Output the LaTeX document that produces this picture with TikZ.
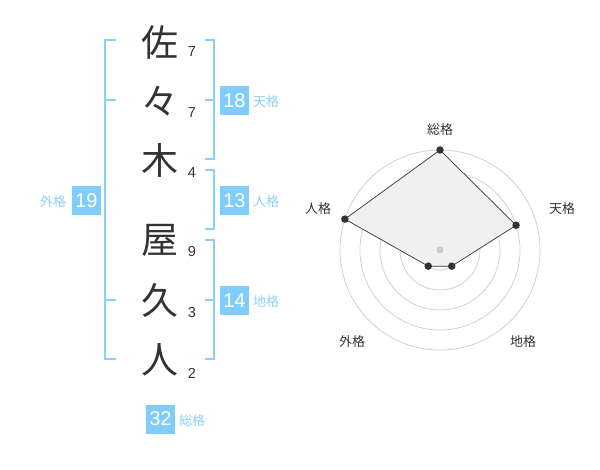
\documentclass[tikz,border=0pt]{standalone}
\usepackage{fontspec}
\setmainfont{Liberation Sans}
\newfontfamily\jp{Noto Sans CJK JP}
\definecolor{kakublue}{RGB}{128,204,250}
\definecolor{linkblue}{RGB}{140,208,246}
\definecolor{darktext}{RGB}{51,51,51}
\definecolor{ringgray}{RGB}{204,204,204}
\definecolor{fillgray}{RGB}{240,240,240}
\begin{document}
\begin{tikzpicture}[
    x=1pt, y=-1pt,
    every node/.style={align=center, inner sep=0pt},
    kanji/.style={font=\jp\fontsize{37}{37}\selectfont, text=darktext},
    stroke/.style={font=\fontsize{14.5}{14.5}\selectfont, text=darktext},
    kakubox/.style={fill=kakublue, minimum width=29pt, minimum height=29pt, text=white, font=\fontsize{20}{20}\selectfont},
    kakulabel/.style={font=\jp\fontsize{13}{13}\selectfont, text=linkblue},
    bracket/.style={draw=linkblue, line width=1.6pt},
    ring/.style={draw=ringgray, line width=0.7pt},
    axis label/.style={font=\jp\fontsize{13}{13}\selectfont, text=darktext},
    radar dot/.style={circle, fill=darktext, minimum size=7.5pt},
    ]
\useasboundingbox (0,0) rectangle (600,470);
% name
\node[kanji] (sa) at (160,42) {佐};
\node[kanji] (noma) at (160,101) {々};
\node[kanji] (ki) at (160,160) {木};
\node[kanji] (ya) at (160,240) {屋};
\node[kanji] (ku) at (160,300) {久};
\node[kanji] (hito) at (160,360) {人};
\node[stroke] (saN) at (192,52) {7};
\node[stroke] (nomaN) at (192,113) {7};
\node[stroke] (kiN) at (192,173) {4};
\node[stroke] (yaN) at (192,252) {9};
\node[stroke] (kuN) at (192,313) {3};
\node[stroke] (hitoN) at (192,373) {2};
% brackets
\draw[bracket] (116,40) -- (105,40) -- (105,359) -- (116,359);
\draw[bracket] (105,100) -- (116,100);
\draw[bracket] (105,300) -- (116,300);
\draw[bracket] (205,40) -- (214,40) -- (214,159) -- (205,159);
\draw[bracket] (205,100) -- (214,100);
\draw[bracket] (205,170) -- (214,170) -- (214,229) -- (205,229);
\draw[bracket] (205,240) -- (214,240) -- (214,359) -- (205,359);
\draw[bracket] (205,300) -- (214,300);
% boxes
\node[kakubox] (tenkaku) at (234.5,100.5) {18};
\node[kakulabel] (tenkakuL) at (266,102) {天格};
\node[kakubox] (jinkaku) at (234.5,200.5) {13};
\node[kakulabel] (jinkakuL) at (266,202) {人格};
\node[kakubox] (chikaku) at (234.5,300.5) {14};
\node[kakulabel] (chikakuL) at (266,302) {地格};
\node[kakubox] (gaikaku) at (86.5,200.5) {19};
\node[kakulabel] (gaikakuL) at (53,202) {外格};
\node[kakubox] (soukaku) at (160.5,419) {32};
\node[kakulabel] (soukakuL) at (192,421) {総格};
% radar
\draw[ring] (440,250) circle (20);
\draw[ring] (440,250) circle (40);
\draw[ring] (440,250) circle (60);
\draw[ring] (440,250) circle (80);
\draw[ring] (440,250) circle (100);
\coordinate (Psou) at (440,150);
\coordinate (Pten) at (516.08,225.28);
\coordinate (Pchi) at (451.76,266.18);
\coordinate (Pgai) at (428.24,266.18);
\coordinate (Pjin) at (344.89,219.10);
\draw[fill=fillgray, draw=darktext, line width=0.7pt] (Psou) -- (Pten) -- (Pchi) -- (Pgai) -- (Pjin) -- cycle;
\node[circle, fill=ringgray, minimum size=7pt] (center) at (440,250) {};
\node[radar dot] (dsou) at (Psou) {};
\node[radar dot] (dten) at (Pten) {};
\node[radar dot] (dchi) at (Pchi) {};
\node[radar dot] (dgai) at (Pgai) {};
\node[radar dot] (djin) at (Pjin) {};
\node[axis label] (soukakuA) at (440,130) {総格};
\node[axis label] (tenkakuA) at (562,209) {天格};
\node[axis label] (chikakuA) at (523,342) {地格};
\node[axis label] (gaikakuA) at (352,342) {外格};
\node[axis label] (jinkakuA) at (318,209) {人格};
\end{tikzpicture}
\end{document}
